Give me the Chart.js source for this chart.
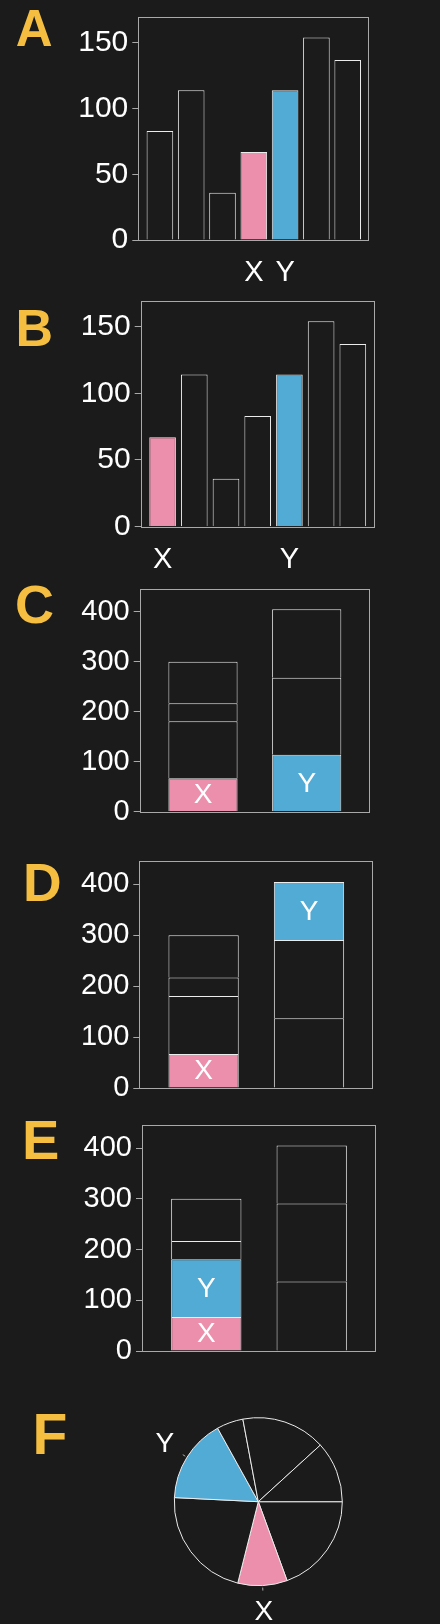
<!DOCTYPE html>
<html>
<head>
<meta charset="utf-8">
<script src="https://cdn.jsdelivr.net/npm/chart.js@4.4.1/dist/chart.umd.min.js"></script>
<style>
html,body{margin:0;padding:0;background:#1b1b1b;}
body{width:440px;height:1624px;position:relative;overflow:hidden;}
canvas{position:absolute;left:0;}
.lt{position:absolute;font-family:"Liberation Sans",Arial,sans-serif;font-weight:bold;color:#f5be40;line-height:1;white-space:nowrap;}
</style>
</head>
<body>
<div class="lt" style="left:15.7px;top:2.8px;font-size:51px">A</div>
<div class="lt" style="left:15.4px;top:301.7px;font-size:52px">B</div>
<div class="lt" style="left:15.1px;top:577.3px;font-size:54px">C</div>
<div class="lt" style="left:23px;top:855.7px;font-size:53.5px">D</div>
<div class="lt" style="left:21.9px;top:1111.9px;font-size:56px">E</div>
<div class="lt" style="left:32.5px;top:1406px;font-size:57px">F</div>

<canvas id="cA"></canvas>
<canvas id="cB"></canvas>
<canvas id="cC"></canvas>
<canvas id="cD"></canvas>
<canvas id="cE"></canvas>
<canvas id="cF"></canvas>

<script>
// ---------------- data ----------------
const barValuesA = [83, 114, 36, 67, 114, 154, 137];
const barMarksA  = ['', '', '', 'X', 'Y', '', ''];
const barValuesB = [67, 114, 36, 83, 114, 154, 137];
const barMarksB  = ['X', '', '', '', 'Y', '', ''];
const yTicksAB   = [0, 50, 100, 150];

const stackLeftC  = [67, 114, 36, 83];
const stackLeftMarksC  = ['X', '', '', ''];
const stackRightC = [114, 154, 137];
const stackRightMarksC = ['Y', '', ''];

const stackLeftD  = [67, 114, 36, 83];
const stackLeftMarksD  = ['X', '', '', ''];
const stackRightD = [137, 154, 114];
const stackRightMarksD = ['', '', 'Y'];

const stackLeftE  = [67, 114, 36, 83];
const stackLeftMarksE  = ['X', 'Y', '', ''];
const stackRightE = [137, 154, 114];
const stackRightMarksE = ['', '', ''];

const yTicksCDE = [0, 100, 200, 300, 400];

const pieValuesF = [137, 67, 154, 114, 36, 114, 83];
const pieMarksF  = ['', 'X', '', 'Y', '', '', ''];

// ---------------- style ----------------
const FONT = '"Liberation Sans", Arial, Helvetica, sans-serif';
const WHITE = '#ffffff';
const FRAME = '#a9a9a9';
const EDGE = '#ececec';
const PINK = '#ec8fad';
const BLUE = '#52abd5';
const BG = '#1b1b1b';
function markColor(m) { return m === 'X' ? PINK : (m === 'Y' ? BLUE : BG); }

Chart.defaults.animation = false;
Chart.defaults.font.family = FONT;

const framePlugin = {
  id: 'frame',
  beforeDatasetsDraw(chart) {
    const a = chart.chartArea, ctx = chart.ctx;
    const l = Math.round(a.left) + 0.5, t = Math.round(a.top) + 0.5;
    const r = Math.round(a.right) - 0.5, b = Math.round(a.bottom) + 0.5;
    ctx.save();
    ctx.strokeStyle = FRAME; ctx.lineWidth = 1;
    ctx.strokeRect(l, t, r - l, b - t);
    ctx.restore();
  }
};

const innerLabelPlugin = {
  id: 'innerLabels',
  afterDatasetsDraw(chart, args, opts) {
    const ctx = chart.ctx;
    ctx.save();
    ctx.fillStyle = WHITE;
    ctx.font = (opts.size || 28) + 'px ' + FONT;
    ctx.textAlign = 'center';
    ctx.textBaseline = 'middle';
    chart.data.datasets.forEach((ds, di) => {
      if (!ds.marks) return;
      const meta = chart.getDatasetMeta(di);
      meta.data.forEach((bar, i) => {
        const m = ds.marks[i];
        if (!m) return;
        const p = bar.getProps(['x', 'y', 'base'], true);
        ctx.fillText(m, p.x, (p.y + p.base) / 2 + 1);
      });
    });
    ctx.restore();
  }
};

function setupCanvas(id, frameTop, baseline) {
  const cTop = Math.floor(frameTop - 40);
  const cBottom = Math.ceil(baseline + 50);
  const el = document.getElementById(id);
  el.width = 440; el.height = cBottom - cTop;
  el.style.top = cTop + 'px';
  el.style.width = '440px'; el.style.height = (cBottom - cTop) + 'px';
  return { el, padTop: frameTop - cTop, xh: cBottom - baseline };
}

function barPanel(id, g, datasets, opts) {
  const c = setupCanvas(id, g.top, g.bottom);
  return new Chart(c.el, {
    type: 'bar',
    data: { datasets },
    options: {
      responsive: false,
      animation: false,
      layout: { padding: { left: 0, top: c.padTop, right: 440 - g.right, bottom: 0 } },
      plugins: { legend: { display: false }, tooltip: { enabled: false }, innerLabels: { size: opts.innerSize || 28 } },
      scales: {
        x: {
          type: 'linear', offset: false, min: opts.xMin, max: opts.xMax, stacked: !!opts.stacked,
          afterBuildTicks: s => { s.ticks = opts.xIdx.map(v => ({ value: v })); },
          afterFit: s => { s.height = c.xh; },
          grid: { display: false }, border: { display: false },
          ticks: {
            display: !!opts.xLabels, color: WHITE, font: { family: FONT, size: 29 },
            padding: 8, autoSkip: false, maxRotation: 0, minRotation: 0,
            callback: v => (opts.xLabels && opts.xLabels[v]) || ''
          }
        },
        y: {
          type: 'linear', min: 0, max: opts.yMax, stacked: !!opts.stacked,
          afterBuildTicks: s => { s.ticks = opts.yTicks.map(v => ({ value: v })); },
          afterFit: s => { s.width = g.left; },
          grid: { display: true, drawOnChartArea: false, drawTicks: true, tickLength: 6, color: FRAME, lineWidth: 1 },
          border: { display: false },
          ticks: { color: WHITE, font: { family: FONT, size: opts.yFont || 30 }, padding: 4 }
        }
      }
    },
    plugins: [framePlugin, innerLabelPlugin]
  });
}

function simpleBars(values, marks, pct) {
  return [{
    data: values.map((v, i) => ({ x: i, y: v })),
    backgroundColor: marks.map(markColor),
    borderColor: EDGE, borderWidth: 1,
    barPercentage: pct, categoryPercentage: 1
  }];
}

function stackDatasets(left, leftMarks, right, rightMarks, pct) {
  const n = Math.max(left.length, right.length);
  const out = [];
  for (let k = 0; k < n; k++) {
    const data = [], marks = [], colors = [];
    if (k < left.length) { data.push({ x: 0, y: left[k] }); marks.push(leftMarks[k]); colors.push(markColor(leftMarks[k])); }
    if (k < right.length) { data.push({ x: 1, y: right[k] }); marks.push(rightMarks[k]); colors.push(markColor(rightMarks[k])); }
    out.push({ data, marks, backgroundColor: colors, borderColor: EDGE, borderWidth: 1,
               barPercentage: pct, categoryPercentage: 1, stack: 's' });
  }
  return out;
}

const idx7 = barValuesA.map((_, i) => i);

// A
barPanel('cA', { left: 138.3, right: 369.3, top: 17.3, bottom: 240 },
  simpleBars(barValuesA, barMarksA, 0.85),
  { xMin: -0.69, xMax: 6.69, xIdx: idx7, xLabels: barMarksA, yMax: 169.4, yTicks: yTicksAB, yFont: 30 });

// B
barPanel('cB', { left: 140.7, right: 374.7, top: 300.7, bottom: 526.7 },
  simpleBars(barValuesB, barMarksB, 0.84),
  { xMin: -0.69, xMax: 6.69, xIdx: idx7, xLabels: barMarksB, yMax: 169.4, yTicks: yTicksAB, yFont: 30 });

// C
barPanel('cC', { left: 139.7, right: 370, top: 589, bottom: 811.7 },
  stackDatasets(stackLeftC, stackLeftMarksC, stackRightC, stackRightMarksC, 0.667),
  { xMin: -0.61, xMax: 1.61, xIdx: [0, 1], xLabels: null, yMax: 445.5, yTicks: yTicksCDE, yFont: 29, stacked: true });

// D
barPanel('cD', { left: 139.3, right: 373.3, top: 861.3, bottom: 1088 },
  stackDatasets(stackLeftD, stackLeftMarksD, stackRightD, stackRightMarksD, 0.667),
  { xMin: -0.61, xMax: 1.61, xIdx: [0, 1], xLabels: null, yMax: 445.5, yTicks: yTicksCDE, yFont: 29, stacked: true });

// E
barPanel('cE', { left: 142, right: 376, top: 1125, bottom: 1351 },
  stackDatasets(stackLeftE, stackLeftMarksE, stackRightE, stackRightMarksE, 0.667),
  { xMin: -0.61, xMax: 1.61, xIdx: [0, 1], xLabels: null, yMax: 445.5, yTicks: yTicksCDE, yFont: 29, stacked: true });

// F (pie)
const pieLabelPlugin = {
  id: 'pieLabels',
  afterDatasetsDraw(chart) {
    const meta = chart.getDatasetMeta(0), ctx = chart.ctx;
    meta.data.forEach((arc, i) => {
      const m = pieMarksF[i];
      if (!m) return;
      const p = arc.getProps(['x', 'y', 'startAngle', 'endAngle', 'outerRadius'], true);
      const mid = (p.startAngle + p.endAngle) / 2;
      const c = Math.cos(mid), s = Math.sin(mid);
      ctx.save();
      ctx.strokeStyle = FRAME; ctx.lineWidth = 1;
      ctx.beginPath();
      ctx.moveTo(p.x + c * (p.outerRadius + 2), p.y + s * (p.outerRadius + 2));
      ctx.lineTo(p.x + c * (p.outerRadius + 5), p.y + s * (p.outerRadius + 5));
      ctx.stroke();
      ctx.fillStyle = WHITE;
      ctx.font = '28px ' + FONT;
      ctx.textAlign = 'center'; ctx.textBaseline = 'middle';
      ctx.fillText(m, p.x + c * (p.outerRadius + 26), p.y + s * (p.outerRadius + 26) + 1);
      ctx.restore();
    });
  }
};

(function () {
  const el = document.getElementById('cF');
  el.width = 440; el.height = 244;
  el.style.top = '1380px'; el.style.width = '440px'; el.style.height = '244px';
  new Chart(el, {
    type: 'pie',
    data: {
      labels: pieMarksF,
      datasets: [{
        data: pieValuesF,
        backgroundColor: pieMarksF.map(markColor),
        borderColor: EDGE, borderWidth: 1
      }]
    },
    options: {
      responsive: false, animation: false, rotation: 90,
      layout: { padding: { left: 173.8, top: 37.2, right: 97.2, bottom: 37.8 } },
      plugins: { legend: { display: false }, tooltip: { enabled: false } }
    },
    plugins: [pieLabelPlugin]
  });
})();
</script>
</body>
</html>
